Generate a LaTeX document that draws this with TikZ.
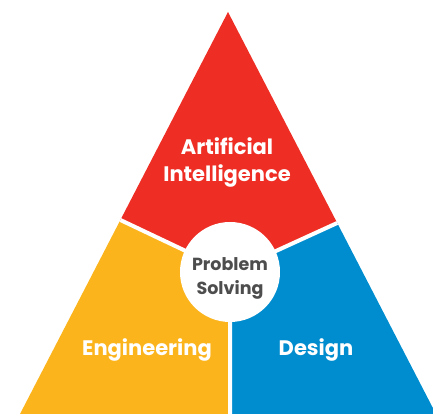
\documentclass[tikz,border=0pt]{standalone}
\usepackage{fontspec}
\setmainfont{Poppins}
\usetikzlibrary{calc,positioning}
\definecolor{aired}{HTML}{EE2E24}
\definecolor{engyellow}{HTML}{FBB41C}
\definecolor{desblue}{HTML}{008DCF}
\definecolor{psgray}{HTML}{4D4D4D}
\tikzset{
  region/.style={draw=none},
  gap/.style={draw=white,line width=4pt},
  hub/.style={circle,fill=white,minimum size=100pt,inner sep=0pt},
  lbl/.style={text=white,font=\bfseries\fontsize{21}{27}\selectfont,align=center},
  hublbl/.style={text=psgray,font=\bfseries\fontsize{17.5}{24}\selectfont,align=center}
}
\begin{document}
\begin{tikzpicture}[x=1pt,y=1pt]
\useasboundingbox (0,0) rectangle (433,414);
\coordinate (A) at (228,402);
\coordinate (BL) at (20,0);
\coordinate (BR) at (436,0);
\coordinate (O) at (230,142);
\coordinate (L) at (120.4,194);
\coordinate (R) at (337.2,191);
\coordinate (M) at (230,0);
% three coloured parts of the triangle
\fill[region,aired] (A)--(L)--(O)--(R)--cycle;
\fill[region,engyellow] (L)--(BL)--(M)--(O)--cycle;
\fill[region,desblue] (R)--(BR)--(M)--(O)--cycle;
% white separators
\draw[gap] (L)--(O) (R)--(O) (M)--(O);
\node[hub] (ps) at (O) {};
\node[hublbl] (pstext) at ($(O)+(0,-6)$) {Problem\\Solving};
\node[lbl] (ai) at (227,252) {Artificial\\Intelligence};
\node[lbl] (eng) at (147,64) {Engineering};
\node[lbl] (des) at (316,64) {Design};
\end{tikzpicture}
\end{document}
